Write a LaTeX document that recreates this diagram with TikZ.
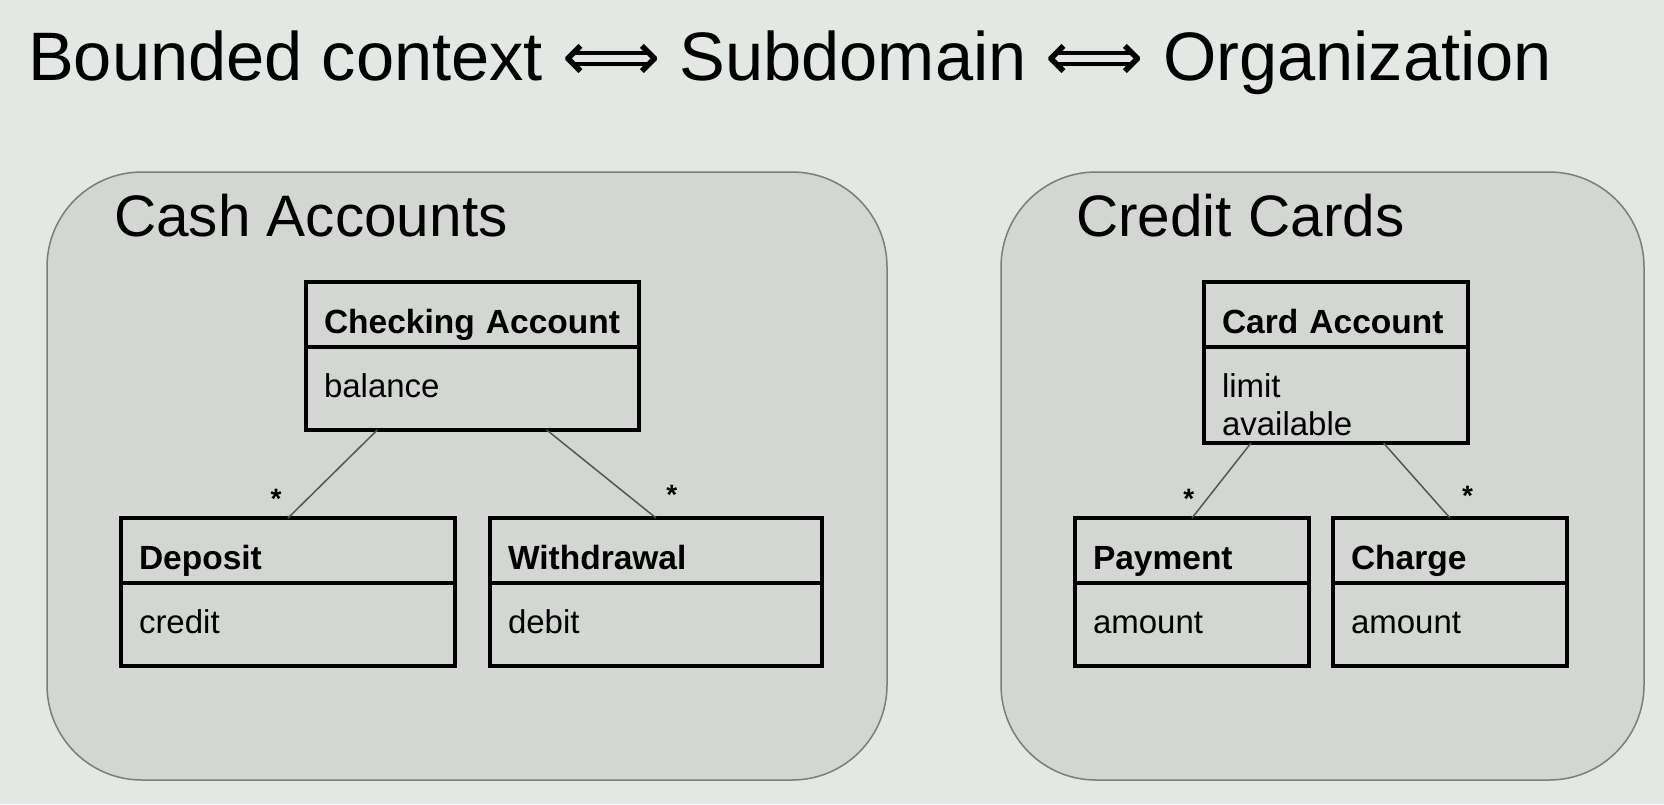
\documentclass[tikz,border=0pt]{standalone}
\usepackage{fontspec}
\setmainfont{Liberation Sans}
\newfontfamily\arrowfont{DejaVu Sans}
\usepackage{xcolor}
\usetikzlibrary{calc}
\definecolor{slide}{HTML}{E3E8E4}
\definecolor{ctxfill}{HTML}{D3D6D3}
\definecolor{ctxline}{HTML}{7A7D7A}
\definecolor{assocline}{HTML}{555555}

\begin{document}
\begin{tikzpicture}[x=1pt, y=-1pt,
	ctx/.style={draw=ctxline, fill=ctxfill, line width=1.5pt, rounded corners=95pt},
	ctxlabel/.style={anchor=base west, inner sep=0pt, font=\fontsize{58.5}{66}\selectfont},
	cname/.style={draw, line width=3.2pt, fill=ctxfill, anchor=north west, outer sep=0pt, inner xsep=18pt, inner ysep=0pt, text height=51pt, text depth=14pt, align=left, font=\fontsize{33.5}{40}\selectfont\bfseries},
	cattr/.style={cname, text height=50pt, text depth=33pt, font=\fontsize{33}{38}\selectfont},
	assoc/.style={draw=assocline, line width=1.5pt},
	mult/.style={inner sep=0pt, font=\fontsize{28}{30}\selectfont\bfseries}]
				\fill[slide] (0,0) rectangle (1664,804);
				\node[anchor=base west, inner sep=0pt, font=\fontsize{68.6}{80}\selectfont] (title) at (28,80) {Bounded context {\arrowfont ⟺} Subdomain {\arrowfont ⟺} Organization};
				\node[ctx, minimum width=840pt, minimum height=608pt] (cash) at (467,476) {};
				\node[ctxlabel] (cashlbl) at (114,236) {Cash Accounts};
				\node[ctx, minimum width=643pt, minimum height=608pt] (card) at (1322.5,476) {};
				\node[ctxlabel] (cardlbl) at (1076,236) {Credit Cards};
				\node[cname, text width=297pt] (chk) at (306,282) {Checking Account};
				\node[cattr, text width=297pt] (chkattr) at (chk.south west) {balance};
				\node[cname, text width=298pt] (dep) at (121,518) {Deposit};
				\node[cattr, text width=298pt] (depattr) at (dep.south west) {credit};
				\node[cname, text width=296pt] (wdr) at (490,518) {Withdrawal};
				\node[cattr, text width=296pt] (wdrattr) at (wdr.south west) {debit};
				\draw[assoc] ($(chkattr.south west)!0.214!(chkattr.south east)$) to node[mult, pos=0.787, xshift=-31pt] {*} (dep.north);
				\draw[assoc] ($(chkattr.south west)!0.723!(chkattr.south east)$) to node[mult, pos=0.742, xshift=44pt] {*} (wdr.north);
				\node[cname, text width=228pt] (cacc) at (1204,282) {Card Account};
				\node[cattr, text width=228pt, text depth=46pt] (caccattr) at (cacc.south west) {limit\\available};
				\node[cname, text width=198pt] (pay) at (1075,518) {Payment};
				\node[cattr, text width=198pt] (payattr) at (pay.south west) {amount};
				\node[cname, text width=198pt] (chg) at (1333,518) {Charge};
				\node[cattr, text width=198pt] (chgattr) at (chg.south west) {amount};
				\draw[assoc] ($(caccattr.south west)!0.178!(caccattr.south east)$) to node[mult, pos=0.747, xshift=-18pt] {*} (pay.north);
				\draw[assoc] ($(caccattr.south west)!0.68!(caccattr.south east)$) to node[mult, pos=0.707, xshift=37pt] {*} (chg.north);
			\end{tikzpicture}
\end{document}
